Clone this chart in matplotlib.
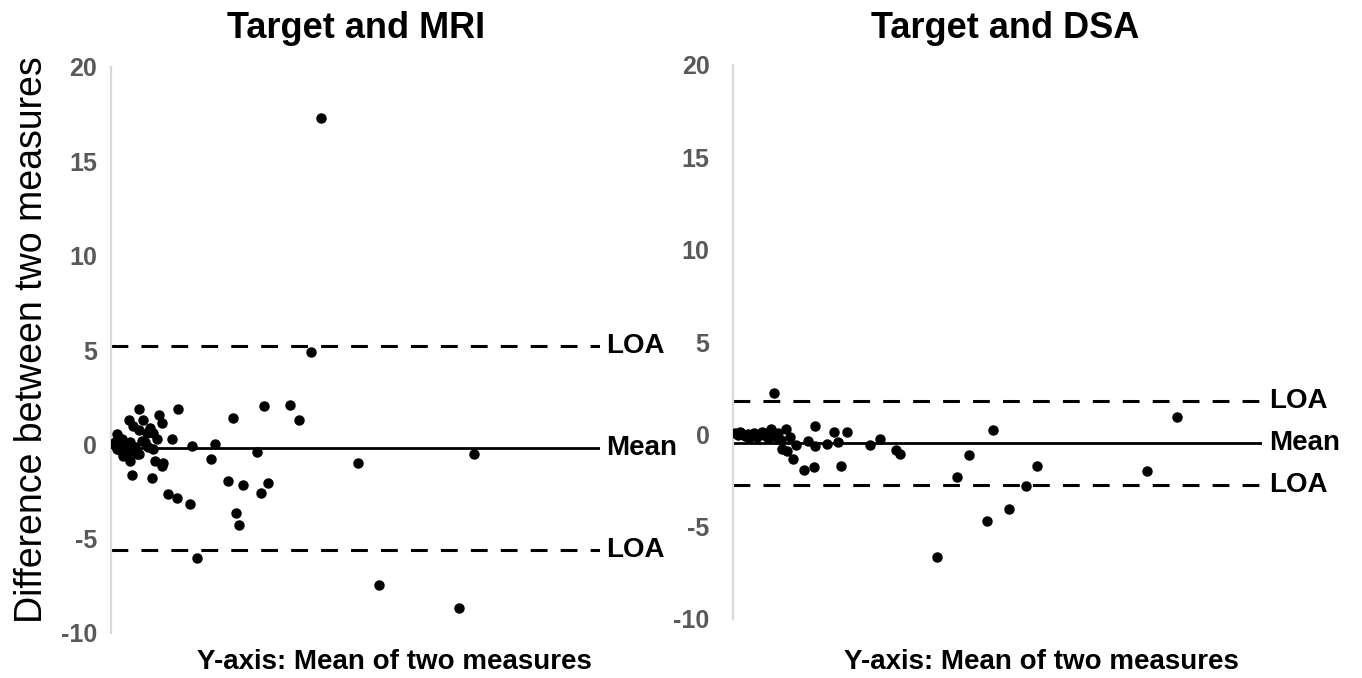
import matplotlib
matplotlib.use("Agg")
import matplotlib.pyplot as plt

plt.rcParams['font.family'] = ['Liberation Sans', 'DejaVu Sans']
plt.rcParams['axes.unicode_minus'] = False

# ---- data ----
titles = ["Target and MRI", "Target and DSA"]
xlabel_text = "Y-axis: Mean of two measures"
ylabel_text = "Difference between two measures"
yticks = [-10, -5, 0, 5, 10, 15, 20]

mri_x = [5.79, 13.76, 9.88, 3.74, 6.61, 10.37, 4.56, 7.98, 5.79, 8.65, 1.17, 12.41,
         9.35, 6.28, 0.41, 0.82, 1.43, 2.04, 2.66, 3.27, 3.89, 1.84, 4.91, 3.07,
         6.95, 7.57, 16.50, 21.27, 8.65, 5.79, 2.50, 29.80, 20.45, 3.89, 8.99, 10.37,
         50.51, 4.24, 8.33, 23.87, 27.06, 32.04, 30.67, 11.59, 13.56, 16.16, 25.49,
         26.24, 17.52, 25.01, 31.29, 36.60, 38.50, 42.88, 40.84, 74.23, 54.74, 71.10,
         1.17, 3.54, 5.26, 2.19, 7.30, 10.70]
mri_y = [1.86, 1.86, 1.55, 1.29, 1.29, 1.12, 0.97, 0.84, 0.76, 0.62, 0.53, 0.27,
         0.27, 0.18, 0.00, 0.11, -0.11, 0.05, -0.21, -0.05, 0.11, -0.32, -0.16, -0.37,
         0.11, -0.16, -0.09, 0.00, -0.27, -0.53, -0.62, -0.41, -0.80, -0.89, -0.89, -1.16,
         -0.98, -1.64, -1.81, -1.92, -2.13, -2.06, -2.59, -2.65, -2.82, -3.18, -3.66,
         -4.25, -6.04, 1.42, 2.01, 2.08, 1.29, 17.31, 4.92, -0.53, -7.47, -8.70,
         -0.27, -0.44, -0.53, 0.27, 0.62, -0.97]
mri_mean = -0.19
mri_loa = [5.22, -5.59]

dsa_x = [7.8, 15.5, 10.0, 19.1, 21.5, 27.8, 7.1, 10.8, 12.0, 14.2, 15.5, 17.8,
         19.9, 25.9, 30.9, 31.6, 9.2, 10.2, 11.3, 13.5, 15.4, 20.4, 49.1, 44.7,
         57.5, 78.2, 42.4, 55.4, 52.2, 48.0, 38.5, 83.9,
         0.3, 1.0, 1.6, 2.2, 2.8, 3.4, 4.0, 4.6, 5.2, 5.8, 6.4, 7.0, 7.6, 8.2,
         1.3, 3.0, 5.5, 6.6, 8.6, 9.0]
dsa_y = [2.26, 0.43, 0.27, 0.13, 0.13, -0.27, 0.31, -0.14, -0.60, -0.38, -0.63, -0.50,
         -0.41, -0.56, -0.83, -1.05, -0.78, -0.92, -1.36, -1.95, -1.77, -1.71, 0.22, -1.14,
         -1.71, -2.01, -2.31, -2.82, -4.03, -4.70, -6.65, 0.94,
         0.05, -0.05, 0.08, -0.10, 0.04, -0.08, 0.06, -0.12, 0.02, -0.06, 0.08, -0.10, 0.00, -0.15,
         0.15, -0.20, 0.15, -0.22, 0.06, -0.30]
dsa_mean = -0.47
dsa_loa = [1.79, -2.77]

W, H = 1362, 678
fig = plt.figure(figsize=(W / 100, H / 100), dpi=100)

def make_axes(l, r, t, b):
    return fig.add_axes([l / W, 1 - b / H, (r - l) / W, (b - t) / H])

panels = [
    dict(ax=make_axes(111, 600, 67, 633), x=mri_x, y=mri_y, mean=mri_mean, loa=mri_loa,
         title=titles[0], tx=356, xlx=394, pad=10),
    dict(ax=make_axes(733, 1262, 65, 619), x=dsa_x, y=dsa_y, mean=dsa_mean, loa=dsa_loa,
         title=titles[1], tx=1005, xlx=1041, pad=17),
]

for p in panels:
    ax = p["ax"]
    ax.set_xlim(0, 100)
    ax.set_ylim(-10, 20)
    ax.set_yticks(yticks)
    ax.set_xticks([])
    for s in ["top", "right", "bottom"]:
        ax.spines[s].set_visible(False)
    ax.spines["left"].set_color("#d9d9d9")
    ax.spines["left"].set_linewidth(1.6)
    ax.tick_params(axis="y", length=0, pad=p["pad"], labelsize=18, labelcolor="#595959")
    for lab in ax.get_yticklabels():
        lab.set_fontweight("bold")
    ax.axhline(p["mean"], color="black", lw=2, zorder=2)
    for v in p["loa"]:
        ax.axhline(v, color="black", lw=2.2, ls=(0, (5.5, 4.3)), zorder=2)
    ax.plot(p["x"], p["y"], "o", color="black", ms=6.5, zorder=3)
    ax.text(101.3, p["mean"], "Mean", fontsize=20, fontweight="bold", va="center",
            ha="left", clip_on=False)
    for v in p["loa"]:
        ax.text(101.3, v, "LOA", fontsize=20, fontweight="bold", va="center",
                ha="left", clip_on=False)
    fig.text(p["tx"] / W, 1 - 28 / H, p["title"], fontsize=26, fontweight="bold",
             ha="center", va="center")
    fig.text(p["xlx"] / W, 1 - 662 / H, xlabel_text, fontsize=20, fontweight="bold",
             ha="center", va="center")

fig.text(32 / W, 1 - 340 / H, ylabel_text, fontsize=27, rotation=90,
         ha="center", va="center")

fig.savefig("out.png", dpi=100)
